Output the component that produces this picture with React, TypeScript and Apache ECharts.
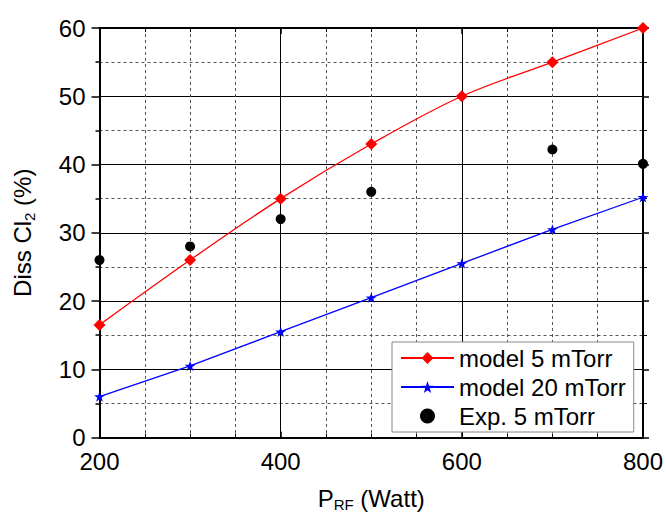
import React, { useEffect, useRef } from "react";
import * as echarts from "echarts";

const xValues = [200, 300, 400, 500, 600, 700, 800];
const model5 = [16.5, 26, 35, 43, 50, 55, 60];
const model20 = [6, 10.5, 15.5, 20.5, 25.5, 30.5, 35.2];
const expX = [200, 300, 400, 500, 700, 800];
const exp5 = [26, 28, 32, 36, 42.2, 40.1];
const seriesNames = ["model 5 mTorr", "model 20 mTorr", "Exp. 5 mTorr"];

const FONT = "'Liberation Sans', Arial, sans-serif";
const STAR =
  "path://M50,0 L61.8,35.1 L98.1,35.1 L68.8,56.7 L79.4,91 L50,70 L20.6,91 L31.2,56.7 L1.9,35.1 L38.2,35.1 Z";

export default function App() {
  const ref = useRef<HTMLDivElement>(null);
  useEffect(() => {
    if (!ref.current) return;
    const chart = echarts.init(ref.current, null, { renderer: "svg" });
    const axisLine = { show: true, onZero: false, lineStyle: { color: "#000", width: 2 } };
    const majorSplit = { show: true, lineStyle: { color: "#000", width: 1, type: "solid" as const } };
    const minorSplit = { show: true, lineStyle: { color: "#555", width: 1, type: [3, 3] as any } };
    chart.setOption({
      animation: false,
      backgroundColor: "#fff",
      textStyle: { fontFamily: FONT },
      grid: { left: 96, right: 21, top: 28, bottom: 79, containLabel: false },
      legend: {
        left: 392,
        top: 342,
        orient: "vertical",
        data: seriesNames,
        backgroundColor: "#fff",
        borderColor: "#888",
        borderWidth: 1,
        borderRadius: 0,
        padding: [4, 8, 4, 8],
        itemWidth: 53,
        itemHeight: 15,
        itemGap: 5,
        textStyle: { fontSize: 24, fontFamily: FONT, color: "#000", lineHeight: 24 },
      },
      xAxis: [
        {
          type: "value",
          min: 200,
          max: 800,
          interval: 200,
          position: "bottom",
          axisLine,
          axisTick: { show: true, inside: true, length: 6, lineStyle: { color: "#000", width: 1.5 } },
          minorTick: { show: true, splitNumber: 4, length: 4, lineStyle: { color: "#000", width: 1 } },
          splitLine: majorSplit,
          minorSplitLine: minorSplit,
          axisLabel: { fontSize: 24, color: "#000", margin: 12, lineHeight: 24, fontFamily: FONT },
          name: "{a|P}{s|RF}{a| (Watt)}",
          nameLocation: "middle",
          nameGap: 47,
          nameTextStyle: {
            rich: {
              a: { fontSize: 24, color: "#000", fontFamily: FONT, lineHeight: 28 },
              s: { fontSize: 15, color: "#000", fontFamily: FONT, lineHeight: 28, padding: [12, 0, 0, 0] },
            },
          },
        },
        {
          type: "value",
          min: 200,
          max: 800,
          interval: 200,
          position: "top",
          axisLine,
          axisTick: { show: true, inside: true, length: 6, lineStyle: { color: "#000", width: 1.5 } },
          minorTick: { show: true, splitNumber: 4, length: 4, lineStyle: { color: "#000", width: 1 } },
          splitLine: { show: false },
          axisLabel: { show: false },
        },
      ],
      yAxis: [
        {
          type: "value",
          min: 0,
          max: 60,
          interval: 10,
          position: "left",
          axisLine,
          axisTick: { show: true, inside: false, length: 8, lineStyle: { color: "#000", width: 1.5 } },
          minorTick: { show: true, splitNumber: 2, length: 4, lineStyle: { color: "#000", width: 1.5 } },
          splitLine: majorSplit,
          minorSplitLine: minorSplit,
          axisLabel: { fontSize: 24, color: "#000", margin: 14, lineHeight: 22, fontFamily: FONT },
          name: "{a|Diss Cl}{s|2}{a| (%)}",
          nameLocation: "middle",
          nameGap: 62,
          nameTextStyle: {
            rich: {
              a: { fontSize: 24, color: "#000", fontFamily: FONT, lineHeight: 30 },
              s: { fontSize: 15, color: "#000", fontFamily: FONT, lineHeight: 30, padding: [14, 0, 0, 0] },
            },
          },
        },
        {
          type: "value",
          min: 0,
          max: 60,
          interval: 10,
          position: "right",
          axisLine,
          axisTick: { show: true, inside: false, length: 6, lineStyle: { color: "#000", width: 1.5 } },
          minorTick: { show: true, splitNumber: 2, length: 4, lineStyle: { color: "#000", width: 1 } },
          splitLine: { show: false },
          axisLabel: { show: false },
        },
      ],
      series: [
        {
          name: seriesNames[0],
          type: "line",
          data: xValues.map((x, i) => [x, model5[i]]),
          smooth: 0.35,
          symbol: "diamond",
          symbolSize: 12,
          lineStyle: { color: "#ff0000", width: 1.3 },
          itemStyle: { color: "#ff0000" },
          clip: false,
          z: 3,
        },
        {
          name: seriesNames[1],
          type: "line",
          data: xValues.map((x, i) => [x, model20[i]]),
          symbol: STAR,
          symbolSize: 11,
          symbolKeepAspect: true,
          lineStyle: { color: "#0000ff", width: 1.3 },
          itemStyle: { color: "#0000ff" },
          clip: false,
          z: 3,
        },
        {
          name: seriesNames[2],
          type: "scatter",
          data: expX.map((x, i) => [x, exp5[i]]),
          symbol: "circle",
          symbolSize: 10,
          itemStyle: { color: "#000", opacity: 1 },
          clip: false,
          z: 3,
        },
      ],
    });
    return () => chart.dispose();
  }, []);
  return (
    <div
      ref={ref}
      style={{ position: "absolute", left: 0, top: 0, width: 666, height: 517, background: "#fff" }}
    />
  );
}
